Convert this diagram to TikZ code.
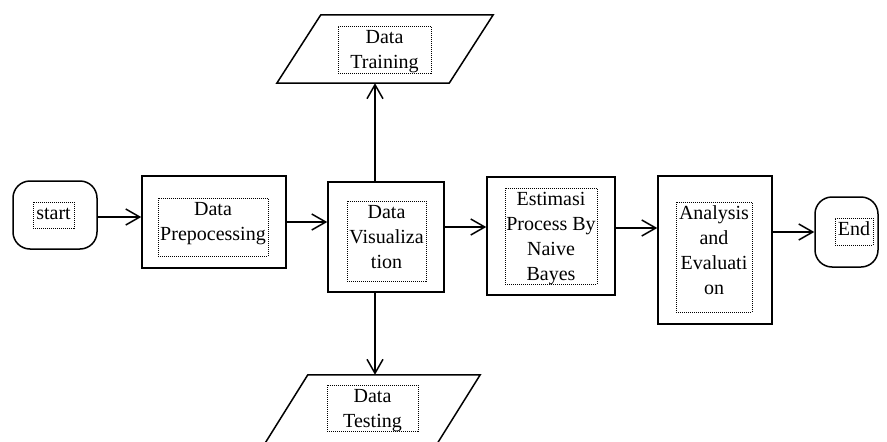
\documentclass[tikz,border=0pt]{standalone}
\usepackage{fontspec}
\setmainfont{Liberation Serif}
\usetikzlibrary{arrows.meta}
\newcommand\mytb[3]{\parbox[c][#2][t]{#1}{\centering\strut #3}}
\begin{document}
\begin{tikzpicture}[x=1pt,y=-1pt,
  font=\fontsize{20}{25}\selectfont,
  box/.style={draw, line width=1.5pt, rectangle, inner sep=0pt},
  term/.style={draw, line width=1.5pt, rectangle, rounded corners=17pt, inner sep=0pt},
  parabody/.style={rectangle, inner sep=0pt, minimum width=172pt},
  paraline/.style={line width=1.5pt, line join=miter},
  tb/.style={draw, line width=1pt, dash pattern=on 1pt off 1pt, inner sep=0pt},
  arr/.style={-{Straight Barb[length=14pt,width=16pt]}, line width=1.5pt}]
\useasboundingbox (0,0) rectangle (887,442);
\clip (0,0) rectangle (887,442);
% outer shapes
\node[term, minimum width=84pt, minimum height=68pt] (start) at (55,215) {};
\node[box, minimum width=144pt, minimum height=92pt] (prep) at (214,222) {};
\node[box, minimum width=116pt, minimum height=110pt] (vis) at (386,237) {};
\node[box, minimum width=128pt, minimum height=118pt] (est) at (551,236) {};
\node[box, minimum width=114pt, minimum height=148pt] (ana) at (715,250) {};
\node[term, minimum width=63pt, minimum height=70pt] (end) at (846.5,232) {};
\node[parabody, minimum height=68pt] (train) at (385,49) {};
\node[parabody, minimum height=70pt] (test) at (372,410) {};
\draw[paraline] ([xshift=22pt]train.north west) -- ([xshift=22pt]train.north east)
  -- ([xshift=-22pt]train.south east) -- ([xshift=-22pt]train.south west) -- cycle;
\draw[paraline] ([xshift=22pt]test.north west) -- ([xshift=22pt]test.north east)
  -- ([xshift=-22pt]test.south east) -- ([xshift=-22pt]test.south west) -- cycle;
% text boxes
\node[tb] (tstart) at (53.5,215) {\mytb{41pt}{26pt}{start}};
\node[tb] (tprep) at (213,227) {\mytb{110pt}{58pt}{Data\\Prepocessing}};
\node[tb] (tvis) at (386.5,241) {\mytb{79pt}{80pt}{Data\\Visualiza\\tion}};
\node[tb] (test2) at (551,236) {\mytb{92pt}{96pt}{Estimasi\\Process By\\Naive\\Bayes}};
\node[tb] (tana) at (714,257) {\mytb{76pt}{110pt}{Analysis\\and\\Evaluati\\on}};
\node[tb] (tend) at (854,231.5) {\mytb{38pt}{27pt}{End}};
\node[tb] (ttrain) at (384.5,49.5) {\mytb{93pt}{47pt}{Data\\Training}};
\node[tb] (ttest) at (372.5,408) {\mytb{91pt}{46pt}{Data\\Testing}};
% connectors
\coordinate (vx) at (375,0);
\draw[arr] ([yshift=-2pt]start.east) -- ([yshift=-2pt]start.east -| prep.west);
\draw[arr] (prep.east) -- (prep.east -| vis.west);
\draw[arr] ([yshift=10pt]vis.east) -- ([yshift=10pt]vis.east -| est.west);
\draw[arr] ([yshift=8pt]est.east) -- ([yshift=8pt]est.east -| ana.west);
\draw[arr] (end.west -| ana.east) -- (end.west);
\draw[arr] (vis.north -| vx) -- (train.south -| vx);
\draw[arr] (vis.south -| vx) -- (test.north -| vx);
\end{tikzpicture}
\end{document}
